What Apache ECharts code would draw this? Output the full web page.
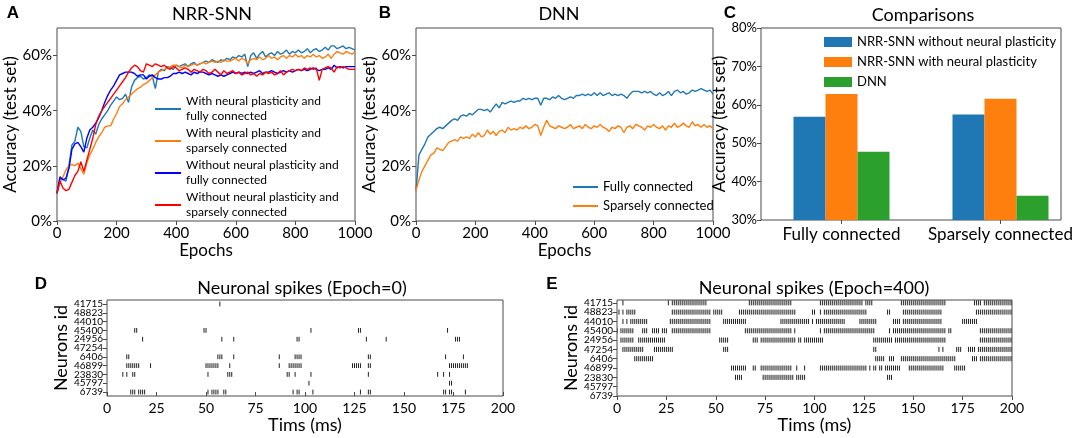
<!DOCTYPE html>
<html>
<head>
<meta charset="utf-8">
<script src="https://cdn.jsdelivr.net/npm/echarts@6/dist/echarts.min.js"></script>
<style>
  html, body { margin: 0; padding: 0; background: #fff; }
  #chart { width: 1084px; height: 438px; }
</style>
</head>
<body>
<div id="chart"></div>
<script>
// ---- panel A / B : accuracy curves, one value every 10 epochs ----
const epochs = Array.from({ length: 101 }, (_, i) => i * 10);

const plastFull = [10.5,15.5,15,14.5,20,27.5,29,34,32.5,27,
  26.5,30,33,31.5,35,37,38.5,40,42,43.5,
  45,44,44.5,46,43,48.5,51,52,52.5,51.5,
  52,53,52.5,48,54,55,54.5,56,55.5,55,
  56.5,56,56.5,57,56,57,57.5,56.5,57,57.5,
  58,57.5,58.5,58,57.5,58.5,58,59,58.5,59.5,
  59,60,59.5,60.5,56,60,61,59,60.5,61.5,
  59.5,60.5,61,60,61.5,60.5,61,62,60.5,61.5,
  61,62,61,61.5,62.5,61,62,62.5,61.5,62,
  63,62,63.5,63.5,62.5,63,63.5,62.5,63,62.5,
  62];
const plastSparse = [10,14,16,18.5,20,20.5,20,21,19,17,
  21,24,26,28.5,30.5,32,34,34.5,34.5,37,
  39,41.5,42.5,44,45,46,47,48,48.5,49.5,
  50,51,52,53,54,54.5,55,55.5,56,56.5,
  56.5,56,55.5,56.5,56,56.5,57,56.5,57,57.5,
  57,57.5,58,57.5,58,57.5,58.5,58,58,58.5,
  59,58,59,58.5,57,58.5,59,58.5,59.5,58.5,
  59,60,59,59.5,58.5,59.5,60,59,60,59.5,
  60.5,59.5,60,59,60,59.5,60.5,59.5,60,59,
  59.5,60.5,59,60.5,61.5,61,60.5,61.5,61,60.5,
  61.5];
const noPlastFull = [10,16,15,15.5,19,26,28,28.5,27,25,
  30,33,34,35.5,37.5,40,43,45.5,47.5,49,
  51,53,53.5,54,54,54,53.5,52.5,53,53,
  51.5,52.5,53,52,51.5,51.5,52,52,52.5,53.5,
  53.5,54,53.5,54,53.5,53,54,53.5,54,54,
  53.5,53,53.5,53,52.5,53,52.5,53,53.5,54,
  53.5,54,53.5,54,53.5,54,53.5,54,54.5,53.5,
  54,54,54.5,54,53.5,54,54.5,54,54.5,54,
  54.5,55,54.5,55,54.5,55,55.5,55,54.5,55,
  55,55.5,55,56.5,55.5,56,55.5,56,56,56,
  56];
const noPlastSparse = [10,14.5,12,11,11.5,14,16.5,18,21.5,18,
  22,26,30,35,38,40,41.5,43,44.5,46,
  47.5,49,50.5,52,54,55.5,56.5,56,54.5,54,
  57,56.5,56,57,56.5,56,56.5,55.5,55,56,
  55.5,54.5,55,55.5,55,54,55,54.5,54,55,
  54.5,53.5,54,55,54,53,54.5,53.5,54,54.5,
  53.5,54,53,53.5,54,53,53.5,52.5,53.5,53,
  54,53.5,54,53,53.5,54.5,53,54,54.5,55,
  54.5,55,54.5,55.5,55,55.5,55,55.5,51,55,
  55.5,56,55.5,54,56,55.5,56,55.5,55,55,
  55];

const dnnFull = [11,24,26,28,30.5,31.5,32.5,33.5,34,33.5,
  34.5,35.5,36.5,37,36.5,38,38.5,38,39,38.5,
  39.5,40.5,40.5,40,40.5,39.5,41,42.5,41,43,
  42.5,43,43.5,43,43.5,43.5,44.5,44,44.5,44,
  44.5,44.5,42,44.5,44.5,44,45,44.5,45.5,44.5,
  44,44.5,45,44.5,45.5,45.5,46,45.5,46,45.5,
  46.5,45.5,46.5,45.5,46,46.5,45.5,46,45.5,46,
  45.5,44.5,46,47,47,47,46.5,47,46.5,47,
  46,45.5,46.5,45.5,46,47,45.5,47,47.5,46.5,
  47,46,46.5,47.5,47,47.5,48,47.5,47,47.5,
  46];
const dnnSparse = [11,15,18,20,22,24,24.5,26.5,26,25.5,
  27,28.5,29,29.5,29,30.5,30,30.5,30,31.5,
  30.5,32,30.5,31,33,31.5,32.5,31,32.5,33,
  32,34,33,33.5,33,34,33.5,34.5,33.5,34,
  35,34.5,31,34,36.5,34.5,34,33.5,34.5,34,
  33.5,34,35,33.5,34,34.5,33.5,35,34,33.5,
  34.5,34,35,34,33.5,32.5,34,33.5,34.5,34,
  32,34,34.5,33.5,35,34.5,34,33,34.5,34,
  35,34,33.5,34.5,33,34.5,34,35.5,34,34.5,
  35.5,34.5,34,36,34.5,35,34,35,34,34.5,
  33.5];

// ---- panel C : final accuracies ----
const connTypes = ['Fully connected', 'Sparsely connected'];
const snnNoPlast = [56.9, 57.5];
const snnPlast = [62.8, 61.6];
const dnnAcc = [47.8, 36.3];

// ---- panels D / E : spike runs [neuron id, first ms, last ms] ----
const neuronIds = ['6739','45797','23830','46899','6406','47254','24956','45400','44010','48823','41715'];

const epoch0Runs = [
  ['41715',57,57],
  ['45400',14,15],['45400',49,50],['45400',103,103],['45400',127,128],['45400',172,172],
  ['24956',18,18],['24956',58,58],['24956',64,64],['24956',96,97],['24956',131,131],['24956',141,141],['24956',176,178],
  ['6406',10,11],['6406',56,58],['6406',64,64],['6406',87,87],['6406',95,98],['6406',132,133],['6406',171,171],['6406',180,180],
  ['46899',10,16],['46899',22,22],['46899',50,56],['46899',62,62],['46899',87,87],['46899',92,98],['46899',124,128],['46899',132,133],['46899',173,182],
  ['23830',8,8],['23830',10,10],['23830',13,14],['23830',51,51],['23830',61,63],['23830',91,92],['23830',95,95],['23830',103,103],['23830',132,132],['23830',167,167],['23830',170,170],['23830',173,173],
  ['45797',102,102],['45797',173,174],
  ['6739',12,14],['6739',16,19],['6739',51,51],['6739',53,56],['6739',59,60],['6739',94,94],['6739',96,97],['6739',104,104],['6739',128,128],['6739',132,133],['6739',170,171],['6739',173,174],['6739',181,181]
];

const epoch400Runs = [
  ['41715',3,3],['41715',26,26],['41715',28,45],['41715',67,88],['41715',103,124],['41715',126,129],['41715',144,166],['41715',181,184],['41715',186,200],
  ['48823',1,1],['48823',3,3],['48823',5,9],['48823',28,47],['48823',49,53],['48823',62,90],['48823',99,100],['48823',103,103],['48823',105,126],['48823',137,138],['48823',145,164],['48823',182,200],
  ['44010',3,3],['44010',5,5],['44010',7,15],['44010',27,47],['44010',54,65],['44010',83,97],['44010',99,99],['44010',101,115],['44010',123,131],['44010',140,143],['44010',145,164],['44010',175,182],
  ['45400',0,0],['45400',2,8],['45400',13,15],['45400',18,21],['45400',23,25],['45400',28,47],['45400',65,88],['45400',90,90],['45400',103,103],['45400',105,128],['45400',129,130],['45400',138,138],['45400',140,166],['45400',168,169],['45400',184,200],
  ['24956',2,8],['24956',11,24],['24956',52,56],['24956',69,71],['24956',73,90],['24956',92,93],['24956',95,104],['24956',130,139],['24956',141,166],['24956',184,200],
  ['47254',3,13],['47254',19,28],['47254',54,56],['47254',130,131],['47254',163,163],['47254',165,165],['47254',172,174],['47254',178,181],['47254',183,200],
  ['6406',9,18],['6406',131,135],['6406',138,140],['6406',144,171],['6406',180,182],['6406',184,200],
  ['46899',58,65],['46899',69,70],['46899',73,88],['46899',91,91],['46899',95,95],['46899',103,126],['46899',128,128],['46899',130,131],['46899',133,134],['46899',136,143],['46899',148,165],['46899',171,176],
  ['23830',60,63],['23830',74,89],['23830',91,95],['23830',137,139]
];

const FRAME = '#4a4a4a';
const FONT = 'Lato';

function toPairs(vals) { return vals.map((v, i) => [epochs[i], v]); }
function toRows(runs) { return runs.map(r => [neuronIds.indexOf(r[0]), r[1], r[2]]); }

function spikeItem(params, api) {
  const row = api.value(0), t0 = api.value(1), t1 = api.value(2);
  const kids = [];
  for (let t = t0; t <= t1; t++) {
    const a = api.coord([t, row + 0.27]);
    const b = api.coord([t, row - 0.27]);
    kids.push({ type: 'line', shape: { x1: a[0], y1: a[1], x2: b[0], y2: b[1] },
      style: { stroke: '#222', lineWidth: 1 } });
  }
  return { type: 'group', children: kids };
}

function tick() { return { show: true, length: 4, lineStyle: { color: FRAME } }; }
const plain = v => String(v);

function accAxis(grid, gap) {
  return {
    type: 'value', gridIndex: grid, min: 0, max: 70,
    axisLine: { show: false }, splitLine: { show: false },
    axisTick: Object.assign(tick(), { customValues: [0, 20, 40, 60] }),
    axisLabel: { customValues: [0, 20, 40, 60], formatter: v => v + '%', fontSize: 15, color: '#000', margin: 5,
      showMinLabel: true, showMaxLabel: true },
    name: 'Accuracy (test set)', nameLocation: 'middle', nameGap: gap,
    nameTextStyle: { fontSize: 17, color: '#000' }
  };
}
function epochAxis(grid) {
  return {
    type: 'value', gridIndex: grid, min: 0, max: 1000, interval: 200,
    axisLine: { show: false }, splitLine: { show: false }, axisTick: tick(),
    axisLabel: { fontSize: 15, color: '#000', margin: 5, formatter: plain, showMinLabel: true, showMaxLabel: true },
    name: 'Epochs', nameLocation: 'middle', nameGap: 20,
    nameTextStyle: { fontSize: 17, color: '#000' }
  };
}
function timeAxis(grid) {
  return {
    type: 'value', gridIndex: grid, min: 0, max: 200, interval: 25,
    axisLine: { show: false }, splitLine: { show: false }, axisTick: tick(),
    axisLabel: { fontSize: 14, color: '#000', margin: 5, formatter: plain, showMinLabel: true, showMaxLabel: true },
    name: 'Tims (ms)', nameLocation: 'middle', nameGap: 20,
    nameTextStyle: { fontSize: 18, color: '#000' }
  };
}
// neuron labels sit closer than the label height, so even and odd rows go on two stacked axes
function neuronAxis(grid, lo, hi, parity) {
  const rows = neuronIds.map((_, i) => i).filter(i => i % 2 === parity);
  const ax = {
    type: 'value', gridIndex: grid, min: lo, max: hi, position: 'left', offset: 0,
    axisLine: { show: false }, splitLine: { show: false },
    axisTick: Object.assign(tick(), { customValues: rows }),
    axisLabel: { customValues: rows, formatter: v => neuronIds[Math.round(v)], fontSize: 10,
      color: '#000', margin: 4, showMinLabel: true, showMaxLabel: true }
  };
  if (parity === 0) {
    ax.name = 'Neurons id';
    ax.nameLocation = 'middle';
    ax.nameGap = 36;
    ax.nameTextStyle = { fontSize: 18, color: '#000' };
  }
  return ax;
}

function curve(name, vals, color, axis) {
  return { name: name, type: 'line', xAxisIndex: axis, yAxisIndex: axis, data: toPairs(vals),
    showSymbol: false, symbol: 'none', color: color, lineStyle: { width: 1.4, color: color }, animation: false };
}
function bar(name, vals, color) {
  return { name: name, type: 'bar', xAxisIndex: 3, yAxisIndex: 3, data: vals,
    barWidth: 32, barGap: '0%', itemStyle: { color: color }, animation: false };
}

function label(text, x, y, size, bold) {
  return { type: 'text', x: x, y: y, silent: true,
    style: { text: text, fill: '#000', font: (bold ? 'bold ' : '') + size + 'px ' + (bold ? '"Liberation Sans"' : FONT),
      align: 'center', verticalAlign: 'middle', textAlign: 'center', textVerticalAlign: 'middle' } };
}

const frame = { show: true, borderColor: FRAME, borderWidth: 1, backgroundColor: 'transparent' };

const option = {
  animation: false,
  textStyle: { fontFamily: FONT },
  grid: [
    Object.assign({ left: 57, top: 28, width: 298, height: 193 }, frame),
    Object.assign({ left: 416, top: 28, width: 297, height: 193 }, frame),
    Object.assign({ left: 761, top: 28, width: 300, height: 192 }, frame),
    { left: 762, top: 28, width: 318, height: 192, show: false },
    Object.assign({ left: 107, top: 300, width: 396, height: 96 }, frame),
    Object.assign({ left: 617, top: 300, width: 395, height: 96 }, frame)
  ],
  xAxis: [
    epochAxis(0),
    epochAxis(1),
    { type: 'value', gridIndex: 2, min: 0, max: 1, show: false },
    { type: 'category', gridIndex: 3, data: connTypes,
      axisLine: { show: false }, axisTick: Object.assign(tick(), { alignWithLabel: true }),
      axisLabel: { fontSize: 17, color: '#000', margin: 6, interval: 0, hideOverlap: false } },
    timeAxis(4),
    timeAxis(5)
  ],
  yAxis: [
    accAxis(0, 36),
    accAxis(1, 34),
    { type: 'value', gridIndex: 2, min: 30, max: 80, interval: 10,
      axisLine: { show: false }, splitLine: { show: false }, axisTick: tick(),
      axisLabel: { formatter: v => v + '%', fontSize: 13, color: '#000', margin: 4, showMinLabel: true, showMaxLabel: true },
      name: 'Accuracy (test set)', nameLocation: 'middle', nameGap: 24,
      nameTextStyle: { fontSize: 17, color: '#000' } },
    { type: 'value', gridIndex: 3, min: 30, max: 80, show: false },
    neuronAxis(4, -0.45, 10.45, 0),
    neuronAxis(5, 0, 10.3, 0),
    neuronAxis(4, -0.45, 10.45, 1),
    neuronAxis(5, 0, 10.3, 1)
  ],
  legend: [
    { data: ['With neural plasticity and\nfully connected', 'With neural plasticity and\nsparsely connected',
             'Without neural plasticity and\nfully connected', 'Without neural plasticity and\nsparsely connected'],
      orient: 'vertical', left: 150, top: 89, itemWidth: 26, itemHeight: 2, itemGap: 2, icon: 'rect',
      selectedMode: false, textStyle: { fontSize: 12, lineHeight: 15, color: '#000' } },
    { data: ['Fully connected', 'Sparsely connected'],
      orient: 'vertical', left: 568, top: 174, itemWidth: 25, itemHeight: 2, itemGap: 3, icon: 'rect',
      selectedMode: false, textStyle: { fontSize: 13, lineHeight: 16, color: '#000' } },
    { data: ['NRR-SNN without neural plasticity', 'NRR-SNN with neural plasticity', 'DNN'],
      orient: 'vertical', left: 819, top: 30, itemWidth: 28, itemHeight: 10, itemGap: 6, icon: 'rect',
      selectedMode: false, textStyle: { fontSize: 13, lineHeight: 14, color: '#000' } }
  ],
  graphic: [
    label('A', 13, 13, 17, true), label('B', 385, 13, 17, true), label('C', 730, 13, 17, true),
    label('D', 41, 284, 17, true), label('E', 552, 284, 17, true),
    label('NRR-SNN', 212, 14, 18), label('DNN', 559, 14, 18), label('Comparisons', 923, 15, 18),
    label('Neuronal spikes (Epoch=0)', 302, 288, 18), label('Neuronal spikes (Epoch=400)', 814, 288, 18)
  ],
  series: [
    curve('With neural plasticity and\nfully connected', plastFull, '#1f77b4', 0),
    curve('With neural plasticity and\nsparsely connected', plastSparse, '#ff7f0e', 0),
    curve('Without neural plasticity and\nfully connected', noPlastFull, '#0000ff', 0),
    curve('Without neural plasticity and\nsparsely connected', noPlastSparse, '#ff0000', 0),
    curve('Fully connected', dnnFull, '#1f77b4', 1),
    curve('Sparsely connected', dnnSparse, '#ff7f0e', 1),
    bar('NRR-SNN without neural plasticity', snnNoPlast, '#1f77b4'),
    bar('NRR-SNN with neural plasticity', snnPlast, '#ff7f0e'),
    bar('DNN', dnnAcc, '#2ca02c'),
    { type: 'custom', xAxisIndex: 4, yAxisIndex: 4, data: toRows(epoch0Runs), renderItem: spikeItem,
      encode: { x: [1, 2], y: 0 }, clip: true, silent: true },
    { type: 'custom', xAxisIndex: 5, yAxisIndex: 5, data: toRows(epoch400Runs), renderItem: spikeItem,
      encode: { x: [1, 2], y: 0 }, clip: true, silent: true }
  ]
};

const chart = echarts.init(document.getElementById('chart'));
chart.setOption(option);
</script>
</body>
</html>
